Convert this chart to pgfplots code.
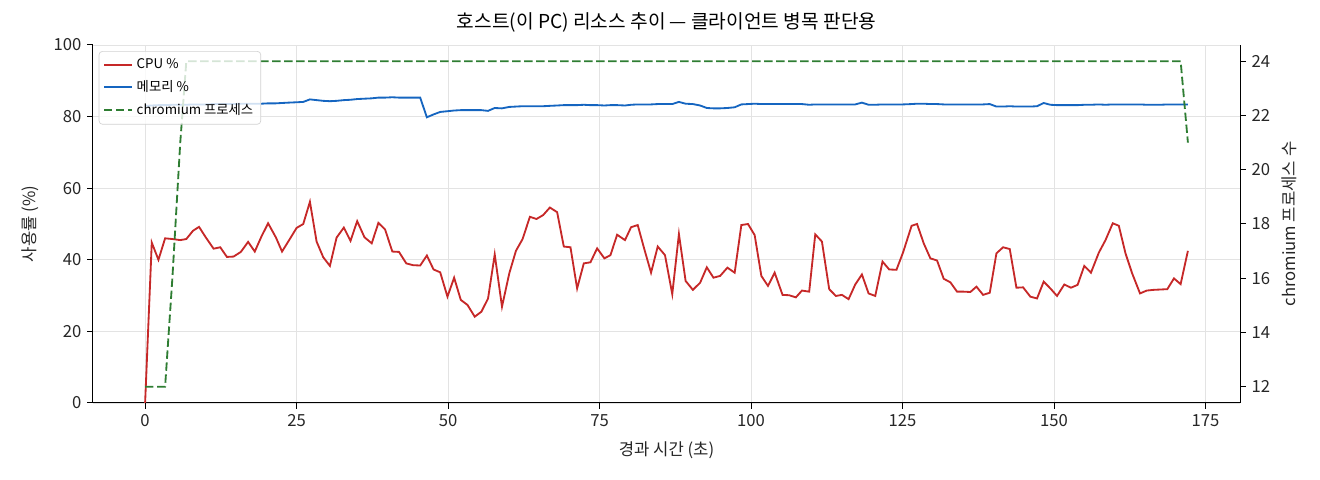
\documentclass[border=0pt]{standalone}
\usepackage{fontspec}
\setmainfont{Noto Sans CJK KR}
\usepackage{pgfplots}
\usepackage{pgfplotstable}
\pgfplotsset{compat=1.18}

\definecolor{cpured}{HTML}{C62828}
\definecolor{memblue}{HTML}{1565C0}
\definecolor{procgreen}{HTML}{2E7D32}

% t = elapsed seconds, cpu %, memory %
\pgfplotstableread{
t cpu mem
0.0 0.0 83.0
1.1 44.8 83.1
2.2 40.0 83.2
3.3 46.0 83.2
4.5 45.8 83.3
5.8 45.5 83.3
6.8 45.8 83.3
7.9 48.1 83.4
8.9 49.2 83.4
10.0 46.3 83.4
11.3 43.1 83.5
12.4 43.5 83.5
13.5 40.8 83.5
14.6 40.9 83.5
15.8 42.2 83.6
17.0 45.0 83.6
18.1 42.3 83.6
19.2 46.5 83.6
20.3 50.2 83.7
21.6 46.2 83.7
22.6 42.3 83.8
23.7 45.3 83.9
25.0 48.9 84.0
26.1 50.0 84.1
27.2 56.2 84.8
28.3 45.1 84.6
29.4 40.7 84.4
30.5 38.3 84.3
31.6 46.2 84.4
32.8 49.0 84.6
33.9 45.3 84.7
35.0 50.8 84.9
36.2 46.3 85.0
37.4 44.6 85.1
38.5 50.3 85.3
39.6 48.5 85.3
40.8 42.3 85.4
41.9 42.2 85.3
43.1 39.0 85.3
44.2 38.5 85.3
45.4 38.4 85.3
46.5 41.2 79.8
47.6 37.3 80.6
48.7 36.5 81.3
49.9 29.7 81.5
51.0 35.0 81.7
52.1 28.8 81.8
53.2 27.4 81.8
54.4 24.1 81.8
55.5 25.5 81.8
56.6 29.2 81.6
57.7 41.5 82.4
58.9 26.9 82.3
60.1 36.2 82.7
61.2 42.5 82.8
62.3 45.8 82.9
63.5 52.0 82.9
64.6 51.4 82.9
65.7 52.5 82.9
66.8 54.6 83.0
68.0 53.3 83.1
69.1 43.7 83.2
70.2 43.5 83.2
71.3 32.0 83.2
72.4 39.0 83.3
73.5 39.3 83.2
74.6 43.2 83.2
75.8 40.4 83.1
76.8 41.3 83.2
77.9 47.0 83.2
79.2 45.5 83.1
80.2 49.1 83.3
81.3 49.7 83.4
82.4 42.9 83.4
83.5 36.4 83.4
84.6 43.7 83.5
85.8 41.3 83.5
87.0 30.4 83.5
88.1 47.2 84.1
89.2 34.1 83.6
90.4 31.6 83.5
91.6 33.6 83.1
92.7 37.9 82.4
93.8 35.0 82.3
94.9 35.5 82.3
96.1 37.8 82.4
97.3 36.4 82.6
98.4 49.7 83.4
99.5 50.0 83.5
100.6 46.9 83.6
101.7 35.5 83.5
102.8 32.7 83.5
103.9 36.4 83.5
105.2 30.2 83.5
106.3 30.1 83.5
107.4 29.5 83.5
108.4 31.4 83.5
109.6 31.1 83.3
110.6 47.1 83.4
111.7 45.1 83.4
112.9 31.8 83.4
114.0 29.9 83.4
115.0 30.2 83.4
116.1 29.0 83.4
117.2 33.1 83.4
118.3 35.9 83.9
119.4 30.6 83.3
120.5 29.9 83.3
121.7 39.5 83.4
122.8 37.3 83.4
124.0 37.2 83.4
125.1 42.1 83.4
126.5 49.5 83.5
127.4 50.0 83.6
128.5 44.6 83.6
129.6 40.4 83.5
130.7 39.8 83.5
131.8 34.7 83.4
132.9 33.7 83.4
134.0 31.1 83.4
135.1 31.1 83.4
136.2 31.0 83.4
137.2 32.5 83.4
138.3 30.2 83.4
139.4 30.8 83.5
140.5 41.8 82.8
141.6 43.5 82.8
142.7 43.0 82.9
143.8 32.2 82.8
144.9 32.3 82.8
146.1 29.7 82.8
147.2 29.2 82.9
148.3 33.9 83.8
149.4 32.0 83.3
150.5 29.9 83.2
151.7 33.1 83.2
152.8 32.2 83.2
153.9 33.0 83.2
155.0 38.3 83.3
156.1 36.4 83.3
157.4 42.0 83.4
158.5 45.5 83.3
159.7 50.2 83.4
160.7 49.5 83.4
161.8 41.8 83.4
162.9 36.2 83.4
164.2 30.6 83.4
165.3 31.4 83.3
166.4 31.6 83.3
167.6 31.7 83.3
168.7 31.8 83.4
169.8 34.8 83.4
170.9 33.2 83.4
172.1 42.5 83.4
}\hosttable

% chromium process count
\pgfplotstableread{
t n
0.0 12
1.1 12
2.2 12
3.3 12
4.5 16
5.8 21
6.8 24
50.0 24
100.0 24
150.0 24
170.9 24
172.1 21
}\proctable

\begin{document}
\begin{tikzpicture}
\useasboundingbox (-55.8pt,-46.2pt) rectangle (736.2pt,241.8pt);
\pgfplotsset{
  every axis/.append style={
    scale only axis, width=688.2pt, height=214.8pt,
    xmin=-8.6, xmax=180.7,
    font=\fontsize{10}{12}\selectfont,
    axis line style={black, line width=0.6pt},
    tick style={black, line width=0.6pt},
    tick align=outside,
    major tick length=3.5pt,
    /pgf/number format/assume math mode=true,
    tick label style={text=black!85},
    label style={text=black!85},
  },
}
\begin{axis}[
  axis y line*=left, axis x line*=bottom,
  ymin=0, ymax=100,
  xtick={0,25,...,175}, ytick={0,20,...,100},
  grid=major, major grid style={gray!22, line width=0.5pt},
  xlabel={경과 시간 (초)}, ylabel={사용률 (\%)},
  xlabel style={yshift=-2pt},
  ylabel style={yshift=2pt},
  title={호스트(이 PC) 리소스 추이 — 클라이언트 병목 판단용},
  title style={font=\fontsize{11.5}{13}\selectfont, yshift=-2pt},
]
\addplot[cpured, line width=1.1pt] table[x=t, y=cpu] {\hosttable};
\addplot[memblue, line width=1.1pt] table[x=t, y=mem] {\hosttable};
\end{axis}
\begin{axis}[
  axis y line*=right, axis x line=none,
  ymin=11.4, ymax=24.6,
  ytick={12,14,...,24},
  ylabel={chromium 프로세스 수},
  ylabel style={yshift=0pt},
  legend style={at={(0.005,0.983)}, anchor=north west,
    font=\fontsize{8}{9.5}\selectfont,
    draw=gray!35, fill=white, fill opacity=0.8, text opacity=1,
    rounded corners=2pt, row sep=1.5pt, inner sep=2.5pt,
    cells={anchor=west}},
  legend image code/.code={\draw[#1] (0pt,0pt) -- (17pt,0pt);},
]
\addlegendimage{cpured, line width=1.1pt}
\addlegendentry{CPU \%}
\addlegendimage{memblue, line width=1.1pt}
\addlegendentry{메모리 \%}
\addplot[procgreen, line width=1.1pt, dash pattern=on 5pt off 2.2pt] table[x=t, y=n] {\proctable};
\addlegendentry{chromium 프로세스}
\end{axis}
\end{tikzpicture}
\end{document}
